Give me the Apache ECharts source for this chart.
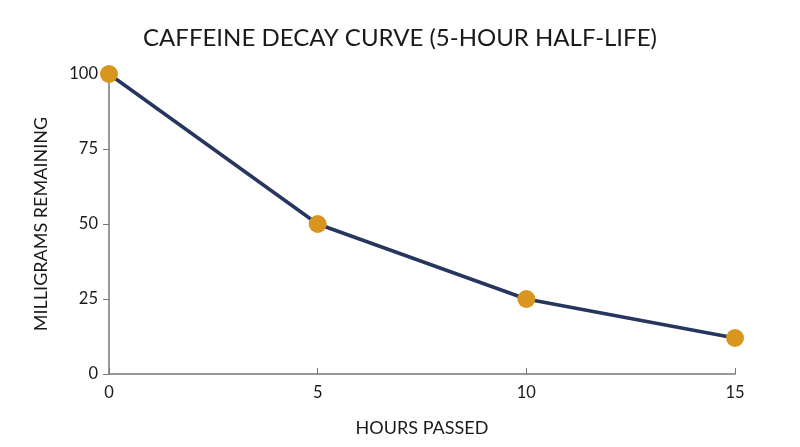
<!DOCTYPE html>
<html>
<head>
<meta charset="utf-8">
<script src="https://cdn.jsdelivr.net/npm/echarts@6/dist/echarts.min.js"></script>
<style>
  html, body { margin: 0; padding: 0; background: #fff; }
  #chart { width: 800px; height: 447px; }
</style>
</head>
<body>
<div id="chart"></div>
<script>
// hours since intake, mg left
var hours = [0, 5, 10, 15];
var milligrams = [100, 50, 25, 12];

var myChart = echarts.init(document.getElementById('chart'));
var font = 'Lato, "Open Sans", sans-serif';

var option = {
  backgroundColor: '#fff',
  title: {
    text: 'CAFFEINE DECAY CURVE (5-HOUR HALF-LIFE)',
    left: 'center',
    top: 21,
    textStyle: { fontFamily: font, fontSize: 24, fontWeight: 'normal', color: '#1a1a1a' }
  },
  grid: { left: 109, right: 65, top: 74, bottom: 73 },
  xAxis: {
    type: 'value',
    min: 0,
    max: 15,
    interval: 5,
    name: 'HOURS PASSED',
    nameLocation: 'middle',
    nameGap: 45,
    nameTextStyle: { fontFamily: font, fontSize: 18, color: '#1a1a1a' },
    axisLine: { lineStyle: { color: '#777', width: 1.5 } },
    axisTick: { inside: true, length: 6, lineStyle: { color: '#777' } },
    axisLabel: { fontFamily: font, fontSize: 16.5, color: '#1a1a1a', margin: 10 },
    splitLine: { show: false }
  },
  yAxis: {
    type: 'value',
    min: 0,
    max: 100,
    interval: 25,
    name: 'MILLIGRAMS REMAINING',
    nameLocation: 'middle',
    nameGap: 59,
    nameTextStyle: { fontFamily: font, fontSize: 18, color: '#1a1a1a' },
    axisLine: { show: true, lineStyle: { color: '#777', width: 1.5 } },
    axisTick: { show: true, length: 6, lineStyle: { color: '#777' } },
    axisLabel: { fontFamily: font, fontSize: 16.5, color: '#1a1a1a', margin: 11 },
    splitLine: { show: false }
  },
  series: [
    {
      type: 'line',
      data: hours.map(function (h, i) { return [h, milligrams[i]]; }),
      symbol: 'circle',
      symbolSize: 18,
      lineStyle: { color: '#27365f', width: 3.5 },
      itemStyle: { color: '#d9961e' },
      z: 3
    }
  ]
};
option && myChart.setOption(option);
</script>
</body>
</html>
